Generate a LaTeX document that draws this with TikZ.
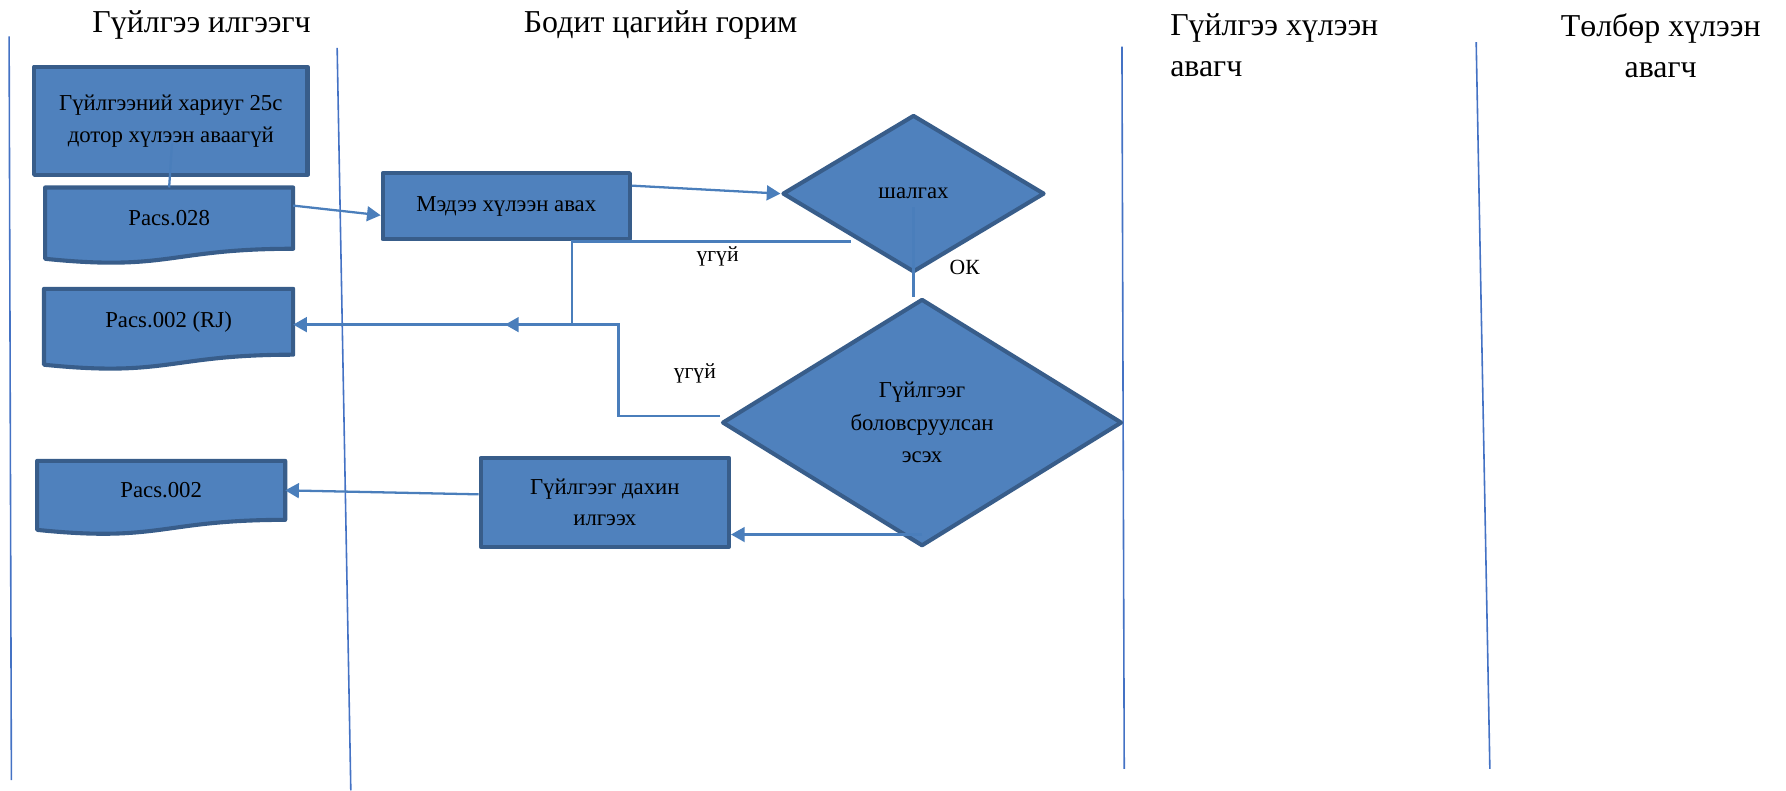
\documentclass[tikz,border=0pt]{standalone}
\usepackage{fontspec}
\setmainfont{Liberation Serif}
\usetikzlibrary{shapes.geometric,arrows.meta,decorations.markings,backgrounds}

\definecolor{boxblue}{HTML}{4F81BD}
\definecolor{boxedge}{HTML}{385D8A}
\definecolor{wireblue}{HTML}{4A7EBB}
\definecolor{lanecol}{HTML}{4472C4}

\tikzset{
  lane/.style={lanecol, line width=.7pt},
  head/.style={font=\fontsize{14}{18}\selectfont, inner sep=0pt, align=center},
  procbox/.style={rectangle, fill=boxblue, draw=boxedge, line width=1.8pt,
    line join=round, align=center, inner sep=1pt,
    font=\fontsize{10}{14}\selectfont},
  docbox/.style={rectangle, align=center, inner sep=1pt,
    font=\fontsize{10}{14}\selectfont},
  decide/.style={diamond, fill=boxblue, draw=boxedge, line width=1.8pt,
    line join=round, align=center, inner sep=0pt,
    font=\fontsize{10}{14.25}\selectfont},
  wire/.style={wireblue, line width=1pt},
  arr/.style={-{Triangle[length=6pt,width=6.5pt]}},
  midarr/.style={postaction={decorate}, decoration={markings,
    mark=at position #1 with {\arrow{Triangle[length=6pt,width=6.5pt]}}}},
  tag/.style={font=\fontsize{9.5}{12}\selectfont, inner sep=0pt}
}

\begin{document}
\begin{tikzpicture}[x=.5pt, y=-.5pt]
    \useasboundingbox (0,0) rectangle (1568,693.6);

    % lanes
    \foreach \xa/\ya/\xb/\yb in {8/32/10/685, 296/42/308/694,
        985/41/987/675, 1296/37/1308/675}
      \draw[lane] (\xa,\ya) -- (\xb,\yb);

    \node[head] (sender) at (177,22) {Гүйлгээ илгээгч};
    \node[head] (realtime) at (580,22) {Бодит цагийн горим};
    \node[head, align=left, anchor=west] (receiver) at (1027,40)
      {Гүйлгээ хүлээн\\авагч};
    \node[head] (payee) at (1458,40) {Төлбөр хүлээн\\авагч};

    %%%% sender lane
    \node[procbox, minimum width=120pt, minimum height=47.5pt] (timeout)
      at (150,106) {Гүйлгээний хариуг 25с\\дотор хүлээн аваагүй};
    \node[docbox, minimum width=108.5pt, minimum height=26.5pt] (p028)
      at (148.5,191.5) {Pacs.028};
    \node[docbox, minimum width=109pt, minimum height=28.5pt] (rj)
      at (148,282.5) {Pacs.002 (RJ)};
    \node[docbox, minimum width=108.5pt, minimum height=25.5pt] (p002)
      at (141.5,430.5) {Pacs.002};

    \begin{scope}[on background layer]
      \foreach \d in {p028,rj,p002}
        \draw[boxedge, fill=boxblue, line width=1.8pt, line join=round]
          (\d.north west) -- (\d.north east) -- (\d.south east)
          .. controls (\d.south) and ([yshift=-10pt]\d.south)
          .. ([yshift=-4.4pt]\d.south west) -- cycle;
    \end{scope}

    %%%% real time lane
    \node[procbox, minimum width=108.5pt, minimum height=29pt] (msg)
      at (444.5,181) {Мэдээ хүлээн авах};
    \node[decide, minimum width=115pt, minimum height=69pt] (check)
      at (802,170) {шалгах};
    \node[decide, minimum width=175.5pt, minimum height=108.5pt] (proc)
      at (809.5,371) {Гүйлгээг\\боловсруулсан\\эсэх};
    \node[procbox, minimum width=109pt, minimum height=39pt] (retry)
      at (531,441) {Гүйлгээг дахин\\илгээх};

    % connectors
    \coordinate (tofoot) at (151,126);
    \draw[wire] (tofoot) -- (p028.north);
    \draw[wire, arr] ([yshift=5.5pt]p028.east) -- ([yshift=-4pt]msg.west);
    \draw[wire, arr] ([yshift=9pt]msg.east) -- (check.west);

    \coordinate (no1) at (747,212);
    \coordinate (no1end) at (502,285);
    \draw[wire] (no1) -| (no1end);
    \node[tag] (no1lbl) at (630,225) {үгүй};

    \coordinate (no2) at (543,285);
    \draw[wire, arr, midarr=-93pt] ([yshift=3pt]proc.west) -| (no2)
      -- (no2 -| rj.east);
    \node[tag] (no2lbl) at (610,328) {үгүй};

    \draw[wire] ([yshift=-6pt]check.center) -- (check.center |- proc.north);
    \node[tag] (oklbl) at (847,235) {ОК};

    \coordinate (procfoot) at ([yshift=6pt]proc.south);
    \draw[wire, arr] (procfoot) -- (procfoot -| retry.east);
    \draw[wire, arr] ([yshift=3.5pt]retry.west) -- (p002.east);
\end{tikzpicture}
\end{document}
